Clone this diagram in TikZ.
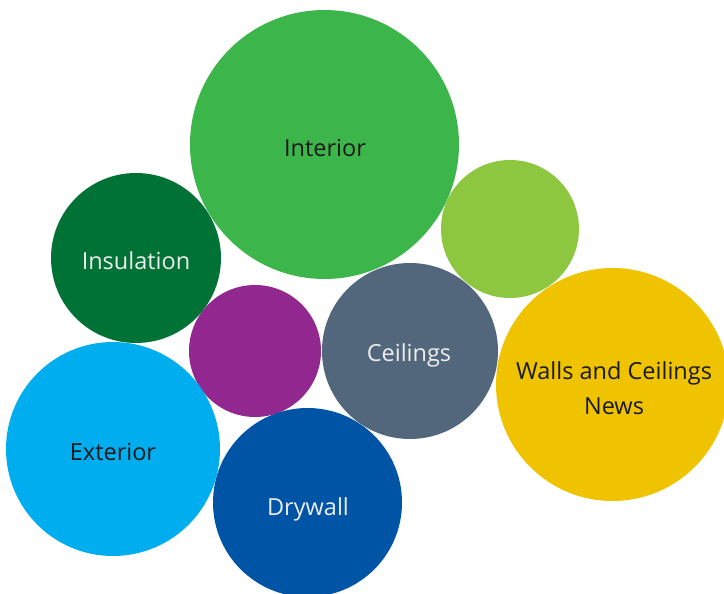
\documentclass[tikz,border=0pt]{standalone}
\usepackage{fontspec}
\setmainfont{Open Sans}
\definecolor{cInterior}{HTML}{3CB54A}
\definecolor{cLime}{HTML}{8DC63F}
\definecolor{cInsul}{HTML}{007236}
\definecolor{cPurple}{HTML}{92278F}
\definecolor{cCeil}{HTML}{52677B}
\definecolor{cWalls}{HTML}{F0C300}
\definecolor{cExt}{HTML}{00AEEF}
\definecolor{cDry}{HTML}{0054A6}
\definecolor{tDark}{HTML}{1A1A1A}
\definecolor{tLight}{HTML}{EDEDED}
\tikzset{
  bubble/.style={circle, draw=none, inner sep=0pt, align=center, font=\fontsize{23.5}{35}\selectfont},
  darktxt/.style={text=tDark},
  lighttxt/.style={text=tLight}
}
\begin{document}
\begin{tikzpicture}[x=1pt,y=-1pt]
\useasboundingbox (0,0) rectangle (724,594);
\begin{scope}
\clip (0,0) rectangle (724,594);
\node[bubble, fill=cInterior, minimum size=269pt] (interior) at (324.5,144.5) {};
\node[bubble, fill=cLime, minimum size=138pt] (lime) at (510,229) {};
\node[bubble, fill=cInsul, minimum size=170pt] (insul) at (136,258) {};
\node[bubble, fill=cPurple, minimum size=132pt] (purple) at (255,351) {};
\node[bubble, fill=cCeil, minimum size=176pt] (ceil) at (410,351) {};
\node[bubble, fill=cWalls, minimum size=233pt] (walls) at (612.5,384.5) {};
\node[bubble, fill=cExt, minimum size=214pt] (ext) at (113,449) {};
\node[bubble, fill=cDry, minimum size=189pt] (dry) at (307.5,502.5) {};
\end{scope}
\node[bubble, darktxt] (tinterior) at (325,148) {Interior};
\node[bubble, lighttxt] (tinsul) at (136,261) {Insulation};
\node[bubble, lighttxt] (tceil) at (409,355) {Ceilings};
\node[bubble, darktxt] (twalls) at (614,388) {Walls and Ceilings\\News};
\node[bubble, darktxt] (text) at (113,452) {Exterior};
\node[bubble, lighttxt] (tdry) at (308,509) {Drywall};
\end{tikzpicture}
\end{document}
